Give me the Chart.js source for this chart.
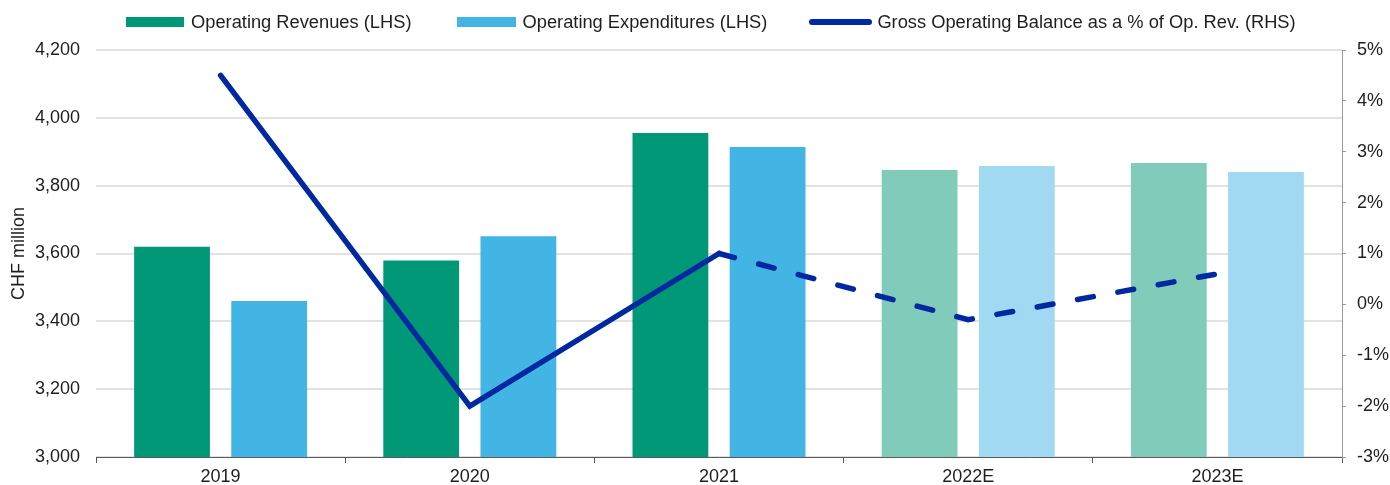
<!DOCTYPE html>
<html>
<head>
<meta charset="utf-8">
<script src="https://cdn.jsdelivr.net/npm/chart.js@4/dist/chart.umd.min.js"></script>
<style>
  html, body { margin: 0; padding: 0; background: #ffffff; }
  #wrap { width: 1390px; height: 485px; position: relative; }
  #legend {
    position: absolute; left: 126px; top: 12px; height: 20px;
    display: flex; align-items: center;
    font-family: 'Liberation Sans', Arial, sans-serif; font-size: 18.3px; color: #1e1e1e;
    white-space: nowrap; line-height: 20px;
  }
  .item { display: flex; align-items: center; }
  .sw { height: 10px; margin-right: 7px; }
  .ln { width: 63px; height: 6px; border-radius: 3px; margin-right: 5px; }
</style>
</head>
<body>
<div id="wrap">
  <canvas id="c" width="1390" height="485"></canvas>
  <div id="legend"></div>
</div>
<script>
// ---- data ----
const categories = ['2019', '2020', '2021', '2022E', '2023E'];
const estimated = [false, false, false, true, true];
const operatingRevenues = [3620, 3579, 3955, 3846, 3867];
const operatingExpenditures = [3460, 3651, 3914, 3858, 3840];
const grossBalancePct = [4.5, -2.0, 1.0, -0.3, 0.6];
const leftTicks = [3000, 3200, 3400, 3600, 3800, 4000, 4200];
const rightTicks = [-3, -2, -1, 0, 1, 2, 3, 4, 5];
const seriesNames = ['Operating Revenues (LHS)', 'Operating Expenditures (LHS)', 'Gross Operating Balance as a % of Op. Rev. (RHS)'];

// ---- styles ----
const REV = '#009877', REV_E = '#80CBBA';
const EXP = '#42B5E5', EXP_E = '#A1D9F2';
const LINE = '#0028A0';
const TXT = '#1e1e1e';
const FONT = "'Liberation Sans', Arial, sans-serif";

// legend (HTML)
const legendEl = document.getElementById('legend');
const legendDefs = [
  { cls: 'sw', color: REV, w: 58, gapBefore: 0 },
  { cls: 'sw', color: EXP, w: 59, gapBefore: 45 },
  { cls: 'ln', color: LINE, gapBefore: 42 }
];
seriesNames.forEach((name, i) => {
  const it = document.createElement('div'); it.className = 'item';
  it.style.marginLeft = legendDefs[i].gapBefore + 'px';
  const sw = document.createElement('div'); sw.className = legendDefs[i].cls;
  sw.style.background = legendDefs[i].color;
  if (legendDefs[i].w) sw.style.width = legendDefs[i].w + 'px';
  const tx = document.createElement('span'); tx.textContent = name;
  it.appendChild(sw); it.appendChild(tx); legendEl.appendChild(it);
});

new Chart(document.getElementById('c'), {
  data: {
    labels: categories,
    datasets: [
      {
        type: 'bar', label: seriesNames[0], data: operatingRevenues,
        backgroundColor: estimated.map(e => e ? REV_E : REV), yAxisID: 'y', order: 1,
        categoryPercentage: 0.78, barPercentage: 0.78
      },
      {
        type: 'bar', label: seriesNames[1], data: operatingExpenditures,
        backgroundColor: estimated.map(e => e ? EXP_E : EXP), yAxisID: 'y', order: 1,
        categoryPercentage: 0.78, barPercentage: 0.78
      },
      {
        type: 'line', label: seriesNames[2], data: grossBalancePct,
        borderColor: LINE, backgroundColor: LINE, borderWidth: 5.5, pointRadius: 0, pointHoverRadius: 0,
        borderCapStyle: 'round', borderJoinStyle: 'miter', tension: 0, yAxisID: 'y1', order: 0,
        segment: { borderDash: ctx => (estimated[ctx.p1DataIndex] ? [16, 25] : []) }
      }
    ]
  },
  options: {
    responsive: false,
    animation: false,
    events: [],
    layout: { padding: { top: 50, left: 0, right: 0, bottom: 0 } },
    font: { family: FONT, size: 18 },
    color: TXT,
    plugins: {
      tooltip: { enabled: false },
      legend: { display: false }
    },
    scales: {
      x: {
        type: 'category',
        offset: true,
        afterFit(scale) { scale.height = 28; },
        grid: { offset: true, drawOnChartArea: false, drawTicks: true, tickLength: 6, color: '#5a5a5a', lineWidth: 1 },
        border: { display: true, color: '#5a5a5a', width: 1 },
        ticks: { color: TXT, font: { family: FONT, size: 18, lineHeight: 1.0 }, padding: 5, maxRotation: 0 }
      },
      y: {
        type: 'linear', position: 'left',
        min: 3000, max: 4200,
        afterBuildTicks(scale) { scale.ticks = leftTicks.map(v => ({ value: v })); },
        afterFit(scale) { scale.width = 96; },
        grid: { color: '#e2e2e2', lineWidth: 2, drawTicks: false },
        border: { display: false },
        ticks: {
          color: TXT, font: { family: FONT, size: 18 }, padding: 16,
          callback: v => v.toLocaleString('en-US')
        },
        title: { display: true, text: 'CHF million', color: TXT, font: { family: FONT, size: 18 }, padding: { top: 8, bottom: 0 } }
      },
      y1: {
        type: 'linear', position: 'right',
        min: -3, max: 5,
        afterBuildTicks(scale) { scale.ticks = rightTicks.map(v => ({ value: v })); },
        afterFit(scale) { scale.width = 48; },
        grid: { drawOnChartArea: false, drawTicks: true, tickLength: 4, color: '#9a9a9a', lineWidth: 1 },
        border: { display: true, color: '#9a9a9a', width: 1 },
        ticks: { color: TXT, font: { family: FONT, size: 18 }, padding: 11, callback: v => v + '%' }
      }
    }
  }
});
</script>
</body>
</html>
